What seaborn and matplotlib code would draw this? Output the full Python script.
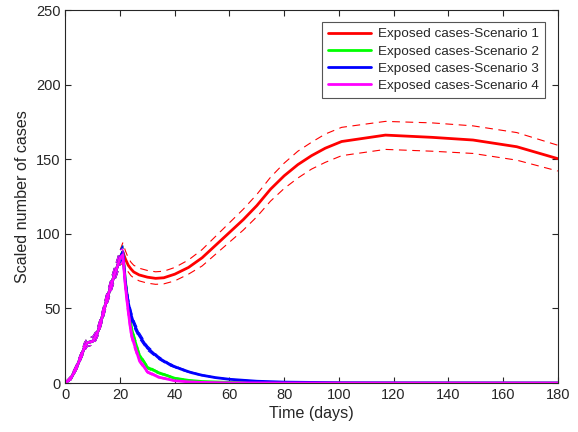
import numpy as np
import pandas as pd
import matplotlib
matplotlib.use("Agg")
import matplotlib.pyplot as plt
import seaborn as sns

# common growth phase (all scenarios share it up to the peak)
rise_days = [0, 2, 4, 6, 7, 8, 9, 10, 11, 12, 13, 14, 15, 16, 17, 18, 19, 20]
rise_val = [0, 3, 10, 19, 24, 27, 27.5, 28, 31, 35, 41, 48, 55, 61, 67, 73, 78, 84]
rise_up = [0.5, 4.5, 12, 21.5, 27, 30, 30.5, 31, 34, 38.5, 44.5, 51.5, 59, 65, 71.5, 77.5, 83, 89]
rise_lo = [0, 2, 8.5, 17, 21.5, 24.5, 25, 25.5, 28, 32, 38, 44.5, 51.5, 57, 63, 68.5, 73.5, 79.5]

# scenario 1 (red)
s1_days = [21, 22, 23, 24, 25, 27, 30, 33, 36, 40, 45, 50, 55, 60, 65, 70, 75, 80, 85, 90, 95,
           101, 117, 134, 149, 165, 180]
s1_val = [88, 83, 79, 76.5, 74.5, 72.5, 71, 70.2, 70.6, 73, 77.5, 84, 92.5, 101, 109.5, 119,
          130, 139, 146.5, 152.5, 157.5, 162, 166.3, 164.8, 163, 158.5, 150.5]
s1_up = [94, 88.5, 84, 81, 79, 77, 75.5, 74.6, 75, 77.5, 82.5, 89.5, 98.5, 107.5, 116.5, 126.5,
         138, 147.5, 155.5, 161.5, 167, 171.5, 175.5, 174.5, 172.5, 168, 159.5]
s1_lo = [80, 78, 74.5, 72, 70.5, 68.5, 67, 66.2, 66.5, 68.5, 73, 78.5, 86.5, 94.5, 102.5, 111.5,
         122, 130.5, 137.5, 143.5, 148, 152.5, 156.7, 155.5, 154, 149.5, 142.2]

# scenario 2 (green)
s2_days = [21, 22, 23, 24, 25, 27, 30, 34, 40, 45, 50, 60, 80, 100, 180]
s2_val = [88, 68, 52, 38, 31, 19, 10.5, 7, 3.2, 1.8, 1, 0.4, 0.1, 0, 0]
s2_up = [92, 72, 55.5, 41, 33.5, 20.5, 11.5, 7.6, 3.6, 2, 1.1, 0.5, 0.1, 0, 0]
s2_lo = [84, 64, 48.5, 35, 28.5, 17.5, 9.5, 6.4, 2.8, 1.6, 0.9, 0.3, 0.1, 0, 0]

# scenario 3 (blue)
s3_days = [21, 22, 23, 24, 25, 27, 30, 34, 38, 42, 46, 50, 55, 60, 70, 80, 100, 120, 180]
s3_val = [88, 66, 54, 46, 40, 32, 23.5, 17, 12.5, 9.5, 7, 5.2, 3.6, 2.5, 1.2, 0.6, 0.2, 0.1, 0]
s3_up = [92, 70, 57.5, 49, 42.5, 34, 25, 18, 13.3, 10.1, 7.4, 5.5, 3.8, 2.6, 1.3, 0.6, 0.2, 0.1, 0]
s3_lo = [84, 62, 50.5, 43, 37.5, 30, 22, 16, 11.7, 8.9, 6.6, 4.9, 3.4, 2.4, 1.1, 0.6, 0.2, 0.1, 0]

# scenario 4 (magenta)
s4_days = [21, 22, 23, 24, 25, 27, 30, 34, 40, 45, 50, 60, 80, 180]
s4_val = [86, 64, 48, 34, 27, 15.5, 7.5, 4, 1.5, 0.8, 0.4, 0.1, 0, 0]
s4_up = [90, 68, 51.5, 37, 29.5, 17, 8.3, 4.5, 1.7, 0.9, 0.5, 0.1, 0, 0]
s4_lo = [82, 60, 44.5, 31, 24.5, 14, 6.7, 3.5, 1.3, 0.7, 0.3, 0.1, 0, 0]

labels = ["Exposed cases-Scenario 1", "Exposed cases-Scenario 2",
          "Exposed cases-Scenario 3", "Exposed cases-Scenario 4"]
colors = ["#ff0000", "#00ff00", "#0000ff", "#ff00ff"]

sns.set_style("ticks", {"xtick.direction": "in", "ytick.direction": "in"})
plt.rcParams["font.family"] = ["Liberation Sans", "DejaVu Sans"]
plt.rcParams["font.size"] = 10

fig = plt.figure(figsize=(5.78, 4.32), dpi=100)
ax = fig.add_axes([0.113, 0.1134, 0.852, 0.8627])

series = [(s1_days, s1_val, s1_up, s1_lo), (s2_days, s2_val, s2_up, s2_lo),
          (s3_days, s3_val, s3_up, s3_lo), (s4_days, s4_val, s4_up, s4_lo)]

handles = []
for (d, v, up, lo), c, lab in zip(series, colors, labels):
    days = rise_days + d
    df = pd.DataFrame({"day": days, "val": rise_val + v,
                       "up": rise_up + up, "lo": rise_lo + lo})
    sns.lineplot(data=df, x="day", y="up", color=c, lw=0.8, linestyle=(0, (7, 5)), ax=ax)
    sns.lineplot(data=df, x="day", y="lo", color=c, lw=0.8, linestyle=(0, (7, 5)), ax=ax)
    sns.lineplot(data=df, x="day", y="val", color=c, lw=2.0, ax=ax)
    handles.append(ax.lines[-1])

ax.set_xlim(0, 180)
ax.set_ylim(0, 250)
ax.set_xticks(np.arange(0, 181, 20))
ax.set_yticks(np.arange(0, 251, 50))
ax.tick_params(top=True, right=True, length=4, width=0.8, labelsize=10.5, colors="#262626")
for s in ax.spines.values():
    s.set_visible(True)
    s.set_color("#262626")
    s.set_linewidth(0.8)
ax.set_xlabel("Time (days)", fontsize=11.6, color="#262626", labelpad=3)
ax.set_ylabel("Scaled number of cases", fontsize=11.6, color="#262626", labelpad=4)

leg = ax.legend(handles, labels, loc="upper right", bbox_to_anchor=(0.974, 0.969),
                borderaxespad=0, fancybox=False, framealpha=1, edgecolor="#555555",
                fontsize=9.7, handlelength=3.2, labelspacing=0.36, borderpad=0.45,
                handletextpad=0.5)
leg.get_frame().set_linewidth(0.8)
for t in leg.get_texts():
    t.set_color("#262626")

fig.savefig("out.png", dpi=100)
